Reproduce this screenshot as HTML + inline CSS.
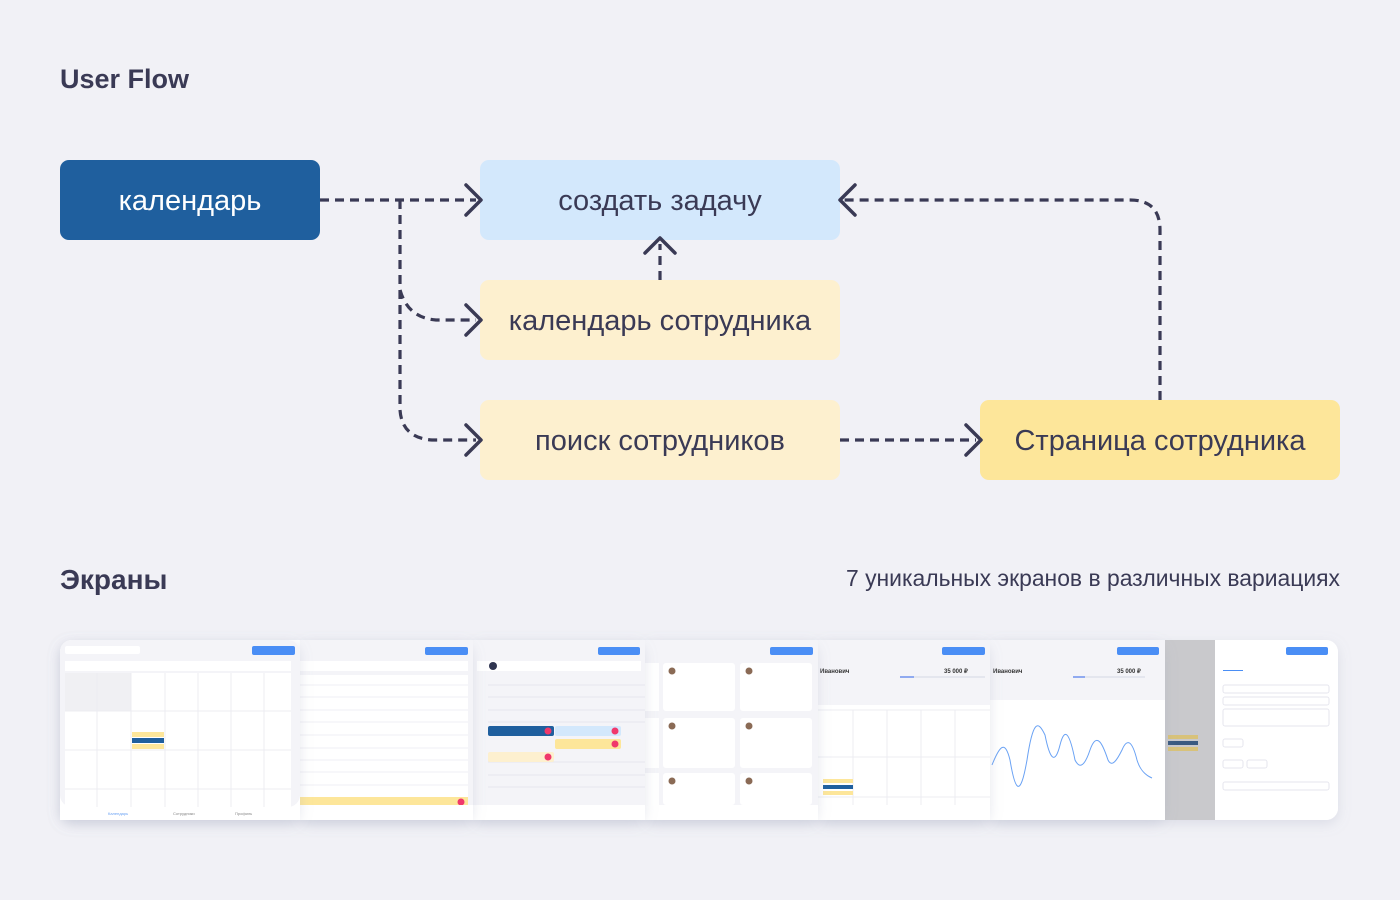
<!DOCTYPE html>
<html><head><meta charset="utf-8"><style>
html,body{margin:0;padding:0;background:#f1f1f6;}
body{width:1400px;height:900px;overflow:hidden;position:relative;font-family:"Liberation Sans","Noto Sans CJK SC",sans-serif;color:#3a3a55;}
</style></head><body>
<svg width="1400" height="900" style="position:absolute;left:0;top:0" font-family="Liberation Sans, sans-serif">
<defs>
<filter id="sh" x="-10%" y="-20%" width="120%" height="140%"><feDropShadow dx="0" dy="4" stdDeviation="6" flood-color="#9aa0b8" flood-opacity="0.25"/></filter>
</defs>
<text x="60" y="88" font-size="27" font-weight="bold" fill="#3a3a55">User Flow</text>
<rect x="60" y="160" width="260" height="80" rx="9" fill="#1f5f9e"/>
<text x="190" y="210" font-size="29" fill="#fff" text-anchor="middle">календарь</text>
<rect x="480" y="160" width="360" height="80" rx="9" fill="#d3e8fc"/>
<text x="660" y="210" font-size="29" fill="#3a3a55" text-anchor="middle">создать задачу</text>
<rect x="480" y="280" width="360" height="80" rx="9" fill="#fdf0cf"/>
<text x="660" y="330" font-size="29" fill="#3a3a55" text-anchor="middle">календарь сотрудника</text>
<rect x="480" y="400" width="360" height="80" rx="9" fill="#fdf0cf"/>
<text x="660" y="450" font-size="29" fill="#3a3a55" text-anchor="middle">поиск сотрудников</text>
<rect x="980" y="400" width="360" height="80" rx="9" fill="#fde69a"/>
<text x="1160" y="450" font-size="29" fill="#3a3a55" text-anchor="middle">Страница сотрудника</text>
<g fill="none" stroke="#3a3a55" stroke-width="3.2" stroke-dasharray="9 6">
<path d="M320 200 H476"/>
<path d="M400 200 V410 Q402 438 432 440 H476"/>
<path d="M400 290 Q408 318 436 320 H476"/>
<path d="M660 280 V244"/>
<path d="M1160 400 V230 Q1160 200 1130 200 H844"/>
<path d="M840 440 H976"/>
</g>
<g fill="none" stroke="#3a3a55" stroke-width="3.5" stroke-linecap="round" stroke-linejoin="round">
<path d="M466 185 L481 200 L466 215"/>
<path d="M466 305 L481 320 L466 335"/>
<path d="M466 425 L481 440 L466 455"/>
<path d="M966 425 L981 440 L966 455"/>
<path d="M855 185 L840 200 L855 215"/>
<path d="M645 253 L660 238 L675 253"/>
</g>
<text x="60" y="589" font-size="28" font-weight="bold" fill="#3a3a55">Экраны</text>
<text x="1340" y="586" font-size="22.9" fill="#3a3a55" text-anchor="end">7 уникальных экранов в различных вариациях</text>

<g>
<rect x="60" y="640" width="1278" height="180" rx="12" fill="#fff" filter="url(#sh)"/>
<rect x="1165" y="640" width="173" height="180" rx="12" fill="#fff"/>
<rect x="1165" y="640" width="50" height="180" fill="#c9c9cc"/>
<rect x="1168" y="735" width="30" height="4" fill="#d8c27a"/><rect x="1168" y="741" width="30" height="4" fill="#3a5a80"/><rect x="1168" y="747" width="30" height="4" fill="#d8c27a"/>
<rect x="1286" y="647" width="42" height="8" rx="2" fill="#4a8ef5"/>
<g fill="#fff" stroke="#e6e6ee"><rect x="1223" y="685" width="106" height="8" rx="2"/><rect x="1223" y="697" width="106" height="8" rx="2"/><rect x="1223" y="709" width="106" height="17" rx="2"/><rect x="1223" y="739" width="20" height="8" rx="2"/><rect x="1223" y="760" width="20" height="8" rx="2"/><rect x="1247" y="760" width="20" height="8" rx="2"/><rect x="1223" y="782" width="106" height="8" rx="2"/></g>
<rect x="1223" y="670" width="20" height="1" fill="#4a8ef5"/>
<rect x="990" y="640" width="175" height="180" rx="12" fill="#fff" filter="url(#sh)"/>
<rect x="990" y="640" width="175" height="60" fill="#f4f4f8"/>
<rect x="1117" y="647" width="42" height="8" rx="2" fill="#4a8ef5"/>
<rect x="1073" y="676" width="72" height="2" fill="#e4e6ee"/><rect x="1073" y="676" width="12" height="2" fill="#90aaf0"/>
<text x="1117" y="673" font-size="6" font-weight="bold" fill="#333">35 000 ₽</text>
<text x="993" y="673" font-size="6" font-weight="bold" fill="#333">Иванович</text>
<path d="M992 765 C1000 745 1005 740 1010 760 C1015 790 1020 800 1027 760 C1033 720 1038 720 1045 735 C1050 760 1055 765 1060 745 C1065 725 1070 735 1075 760 C1080 770 1085 765 1090 750 C1097 730 1103 745 1108 760 C1112 768 1117 760 1122 750 C1127 738 1132 740 1137 760 C1140 770 1145 775 1152 778" fill="none" stroke="#6aa2f4" stroke-width="1"/>
<rect x="990" y="805" width="175" height="15" fill="#fff"/>
<rect x="818" y="640" width="172" height="180" rx="12" fill="#fff" filter="url(#sh)"/>
<rect x="818" y="640" width="172" height="65" fill="#f4f4f8"/>
<rect x="942" y="647" width="43" height="8" rx="2" fill="#4a8ef5"/>
<rect x="900" y="676" width="85" height="2" fill="#e4e6ee"/><rect x="900" y="676" width="14" height="2" fill="#90aaf0"/>
<text x="944" y="673" font-size="6" font-weight="bold" fill="#333">35 000 ₽</text>
<text x="820" y="673" font-size="6" font-weight="bold" fill="#333">Иванович</text>
<g stroke="#ececf2"><line x1="818" y1="710" x2="990" y2="710"/><line x1="818" y1="757" x2="990" y2="757"/><line x1="818" y1="797" x2="990" y2="797"/><line x1="853" y1="710" x2="853" y2="805"/><line x1="887" y1="710" x2="887" y2="805"/><line x1="921" y1="710" x2="921" y2="805"/><line x1="955" y1="710" x2="955" y2="805"/></g>
<rect x="823" y="779" width="30" height="4" fill="#fde69a"/><rect x="823" y="785" width="30" height="4" fill="#1f5f9e"/><rect x="823" y="791" width="30" height="4" fill="#fde69a"/>
<rect x="818" y="805" width="172" height="15" fill="#fff"/>
<rect x="645" y="640" width="173" height="180" rx="12" fill="#fff" filter="url(#sh)"/>
<rect x="645" y="640" width="173" height="165" fill="#f4f4f8"/>
<rect x="770" y="647" width="43" height="8" rx="2" fill="#4a8ef5"/>
<g fill="#fff"><rect x="663" y="663" width="72" height="48" rx="3"/><rect x="740" y="663" width="72" height="48" rx="3"/><rect x="663" y="718" width="72" height="50" rx="3"/><rect x="740" y="718" width="72" height="50" rx="3"/><rect x="663" y="773" width="72" height="32" rx="3"/><rect x="740" y="773" width="72" height="32" rx="3"/><rect x="645" y="663" width="14" height="48"/><rect x="645" y="718" width="14" height="50"/><rect x="645" y="773" width="14" height="32"/></g>
<g fill="#8a6a55"><circle cx="672" cy="671" r="3.5"/><circle cx="749" cy="671" r="3.5"/><circle cx="672" cy="726" r="3.5"/><circle cx="749" cy="726" r="3.5"/><circle cx="672" cy="781" r="3.5"/><circle cx="749" cy="781" r="3.5"/></g>
<rect x="645" y="805" width="173" height="15" fill="#fff"/>
<rect x="473" y="640" width="172" height="180" rx="12" fill="#fff" filter="url(#sh)"/>
<rect x="473" y="640" width="172" height="165" fill="#f4f4f8"/>
<rect x="598" y="647" width="42" height="8" rx="2" fill="#4a8ef5"/>
<rect x="477" y="661" width="164" height="10" fill="#fff"/>
<circle cx="493" cy="666" r="4" fill="#2f3550"/>
<g stroke="#e6e6ee"><line x1="488" y1="685" x2="645" y2="685"/><line x1="488" y1="697" x2="645" y2="697"/><line x1="488" y1="710" x2="645" y2="710"/><line x1="488" y1="722" x2="645" y2="722"/><line x1="488" y1="762" x2="645" y2="762"/><line x1="488" y1="775" x2="645" y2="775"/><line x1="488" y1="787" x2="645" y2="787"/></g>
<rect x="488" y="726" width="66" height="10" rx="2" fill="#1f5f9e"/><circle cx="548" cy="731" r="3.5" fill="#f0386b"/>
<rect x="555" y="726" width="66" height="10" rx="2" fill="#d3e8fc"/><circle cx="615" cy="731" r="3.5" fill="#f0386b"/>
<rect x="555" y="739" width="66" height="10" rx="2" fill="#fde69a"/><circle cx="615" cy="744" r="3.5" fill="#f0386b"/>
<rect x="488" y="752" width="66" height="10" rx="2" fill="#fdf0cf"/><circle cx="548" cy="757" r="3.5" fill="#f0386b"/>
<rect x="473" y="805" width="172" height="15" fill="#fff"/>
<rect x="300" y="640" width="173" height="180" rx="12" fill="#fff" filter="url(#sh)"/>
<rect x="300" y="640" width="173" height="165" fill="#f4f4f8"/>
<rect x="425" y="647" width="43" height="8" rx="2" fill="#4a8ef5"/>
<rect x="300" y="661" width="168" height="10" fill="#fff"/>
<rect x="300" y="675" width="168" height="130" fill="#fff"/>
<g stroke="#efeff4"><line x1="300" y1="685" x2="468" y2="685"/><line x1="300" y1="697" x2="468" y2="697"/><line x1="300" y1="710" x2="468" y2="710"/><line x1="300" y1="722" x2="468" y2="722"/><line x1="300" y1="735" x2="468" y2="735"/><line x1="300" y1="748" x2="468" y2="748"/><line x1="300" y1="760" x2="468" y2="760"/><line x1="300" y1="772" x2="468" y2="772"/><line x1="300" y1="785" x2="468" y2="785"/></g>
<rect x="300" y="797" width="168" height="8" fill="#fde69a"/><circle cx="461" cy="802" r="3.5" fill="#f0386b"/>
<rect x="300" y="805" width="173" height="15" fill="#fff"/>
<rect x="60" y="640" width="240" height="180" rx="12" fill="#fff" filter="url(#sh)"/>
<rect x="60" y="640" width="240" height="167" rx="12" fill="#f4f4f8"/>
<rect x="252" y="646" width="43" height="9" rx="2" fill="#4a8ef5"/>
<rect x="65" y="646" width="75" height="8" rx="2" fill="#fff"/>
<rect x="65" y="661" width="226" height="10" fill="#fff"/>
<rect x="65" y="673" width="226" height="134" fill="#fff"/>
<rect x="65" y="673" width="66" height="38" fill="#f0f0f3"/>
<g stroke="#ececf2"><line x1="65" y1="711" x2="291" y2="711"/><line x1="65" y1="750" x2="291" y2="750"/><line x1="65" y1="789" x2="291" y2="789"/><line x1="97" y1="673" x2="97" y2="807"/><line x1="131" y1="673" x2="131" y2="807"/><line x1="165" y1="673" x2="165" y2="807"/><line x1="198" y1="673" x2="198" y2="807"/><line x1="231" y1="673" x2="231" y2="807"/><line x1="264" y1="673" x2="264" y2="807"/></g>
<rect x="132" y="732" width="32" height="5" fill="#fde69a"/><rect x="132" y="738" width="32" height="5" fill="#1f5f9e"/><rect x="132" y="744" width="32" height="5" fill="#fde69a"/>
<rect x="60" y="807" width="240" height="13" fill="#fff"/>
<g font-size="4" fill="#6aa2f4"><text x="108" y="815">Календарь</text><text x="173" y="815" fill="#888">Сотрудники</text><text x="235" y="815" fill="#888">Профиль</text></g>
</g>
</svg>
</body></html>
